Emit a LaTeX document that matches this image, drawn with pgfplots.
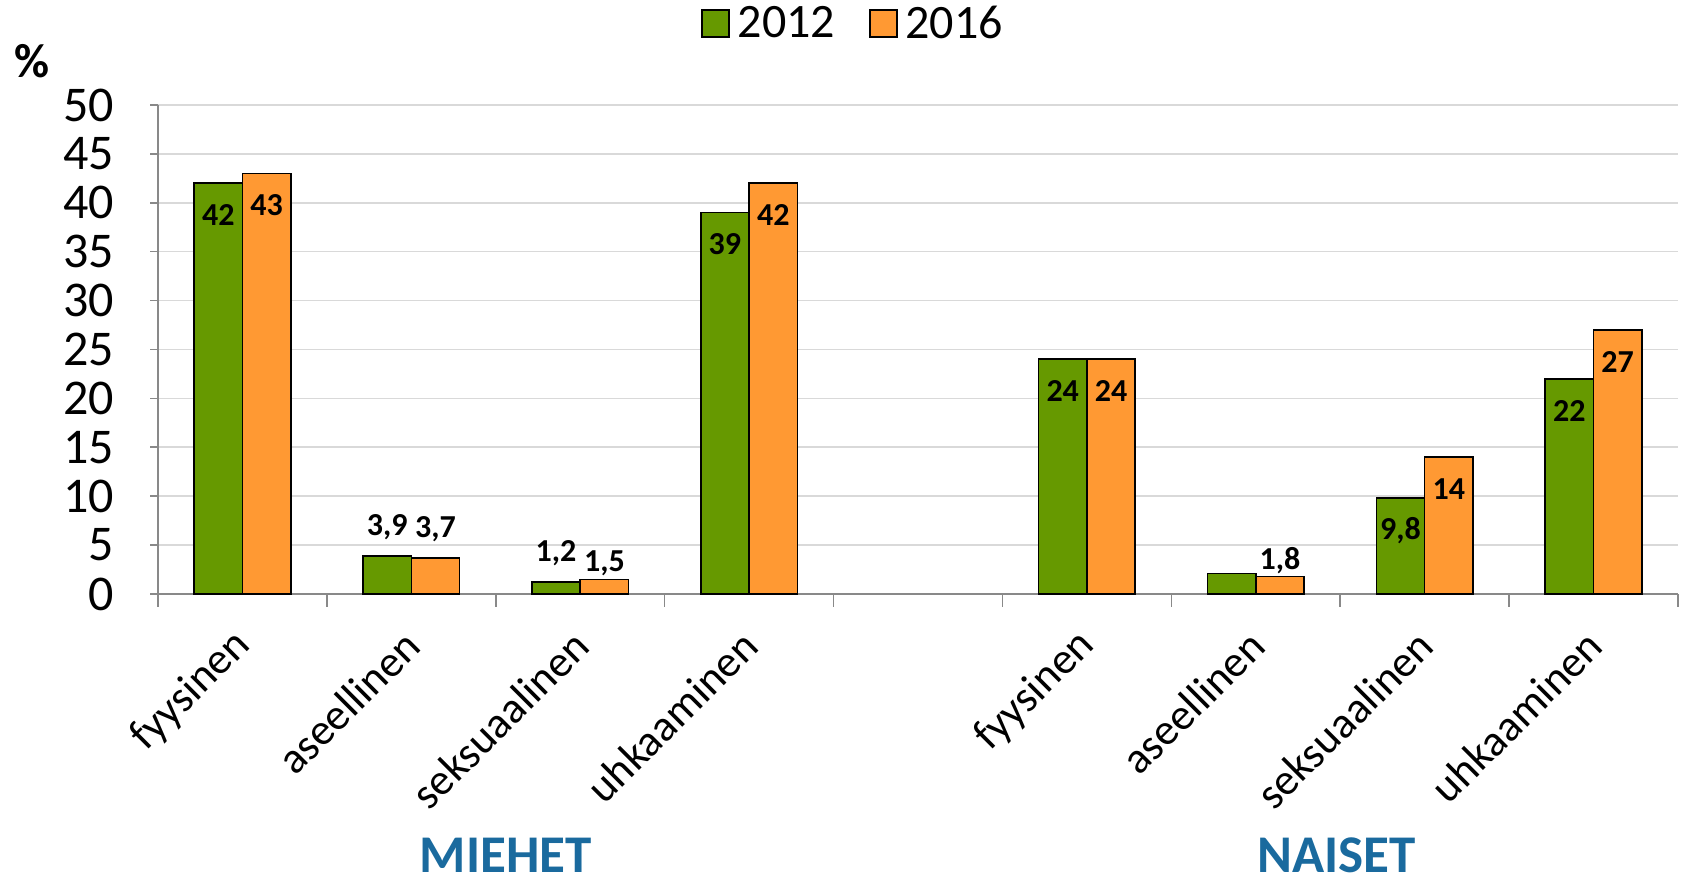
\documentclass[border=0pt]{standalone}
\usepackage{fontspec}
\setmainfont{Carlito}
\usepackage{pgfplots}
\usepackage{pgfplotstable}
\pgfplotsset{compat=1.18}
\definecolor{cgreen}{HTML}{669900}
\definecolor{corange}{HTML}{FF9933}
\definecolor{cblue}{HTML}{1A6A9E}
\definecolor{cgrid}{HTML}{D9D9D9}
\definecolor{caxis}{HTML}{898989}

\pgfplotstableread{
x y lab off
0 42 42 -16
1 3.9 {3,9} 14.5
2 1.2 {1,2} 14.5
3 39 39 -16
5 24 24 -16
6 2.1 {} 0
7 9.8 {9,8} -16
8 22 22 -16
}\dataA
\pgfplotstableread{
x y lab off
0 43 43 -16
1 3.7 {3,7} 14.5
2 1.5 {1,5} 7.8
3 42 42 -16
5 24 24 -16
6 1.8 {1,8} 7.8
7 14 14 -16
8 27 27 -16
}\dataB

\pgfplotsset{lblstyle/.style={
  nodes near coords,
  point meta=explicit symbolic,
  visualization depends on={\thisrow{off} \as \off},
  every node near coord/.append style={anchor=center, yshift=\off pt, font=\bfseries\fontsize{16}{18}\selectfont, text=black}}}

\begin{document}
\begin{tikzpicture}
\path[use as bounding box] (0,0) rectangle (841.5pt,439.5pt);
\begin{axis}[
  at={(79pt,142.5pt)}, anchor=south west,
  scale only axis, width=760pt, height=244.5pt,
  ybar, clip=false,
  xmin=-0.5, xmax=8.5, ymin=0, ymax=50,
  ytick={0,5,...,50},
  xtick={0,1,2,3,5,6,7,8},
  xticklabels={fyysinen,aseellinen,seksuaalinen,uhkaaminen,fyysinen,aseellinen,seksuaalinen,uhkaaminen},
  minor xtick={-0.5,0.5,1.5,2.5,3.5,4.5,5.5,6.5,7.5,8.5},
  major x tick style={draw=none},
  minor x tick style={caxis, line width=0.8pt},
  minor tick length=6.5pt,
  major tick length=3.8pt,
  xtick align=outside, ytick align=outside,
  axis x line*=bottom, axis y line*=left,
  axis line style={caxis, line width=0.9pt},
  y tick style={caxis, line width=0.8pt},
  ymajorgrids, grid style={cgrid, line width=0.8pt},
  /pgf/number format/assume math mode=true,
  yticklabel style={font=\fontsize{25}{27}\selectfont, xshift=-14.5pt},
  xticklabel style={font=\fontsize{22}{24}\selectfont, xshift=3pt, yshift=-16pt, rotate=45, anchor=east},
  legend style={at={(0.458,1)}, anchor=center, yshift=40.7pt, draw=none, fill=none,
    font=\fontsize{24}{26}\selectfont, legend columns=2,
    /tikz/every odd column/.append style={column sep=2pt},
    /tikz/every even column/.append style={column sep=15pt}},
  legend image code/.code={\draw[#1] (0pt,-6.7pt) rectangle (13.4pt,6.7pt);},
]
\addplot[fill=cgreen, draw=black, line width=0.8pt, bar width=0.286, bar shift=-0.143, lblstyle] table[x=x, y=y, meta=lab] {\dataA};
\addplot[fill=corange, draw=black, line width=0.8pt, bar width=0.286, bar shift=0.143, lblstyle] table[x=x, y=y, meta=lab] {\dataB};
\legend{2012,2016}
\node[font=\bfseries\fontsize{24}{26}\selectfont, anchor=center] at (rel axis cs:0,1) [xshift=-63pt, yshift=22pt] {\%};
\node[font=\bfseries\fontsize{26.5}{28}\selectfont, text=cblue, anchor=center, inner sep=0pt] at (axis cs:1.56,0) [yshift=-130.5pt] {MIEHET};
\node[font=\bfseries\fontsize{26.5}{28}\selectfont, text=cblue, anchor=center, inner sep=0pt] at (axis cs:6.48,0) [yshift=-130.5pt] {NAISET};
\end{axis}
\end{tikzpicture}
\end{document}
